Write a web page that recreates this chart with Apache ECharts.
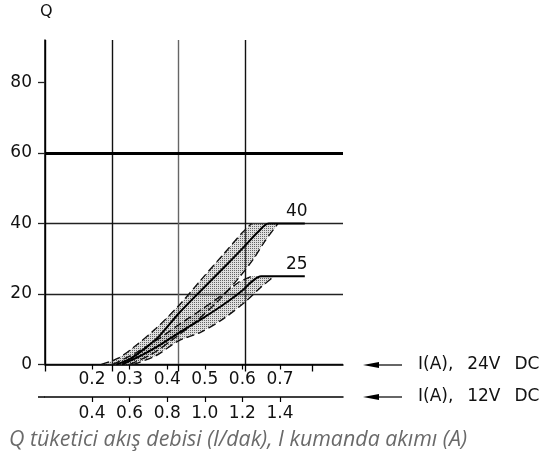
<!DOCTYPE html>
<html>
<head>
<meta charset="utf-8">
<script src="https://cdn.jsdelivr.net/npm/echarts@6.0.0/dist/echarts.min.js"></script>
<style>
  html, body { margin: 0; padding: 0; background: #fff; }
  #chart { width: 546px; height: 465px; }
</style>
</head>
<body>
<div id="chart"></div>
<script>
// axis ticks
const yTicks = [0, 20, 40, 60, 80];
const ticks24V = [0.2, 0.3, 0.4, 0.5, 0.6, 0.7];
const ticks12V = [0.4, 0.6, 0.8, 1.0, 1.2, 1.4];
const gridCols = [0, 1, 2, 3, 4];
const boldLevel = 60;

// curves, x = I (A) at 24V DC, y = Q (l/dak)
const upper40 = [[0.225, 0], [0.27, 1.8], [0.31, 4.8], [0.37, 10.2], [0.43, 16.6], [0.49, 24], [0.55, 31.3], [0.60, 37.4], [0.625, 40]];
const center40 = [[0.265, 0], [0.30, 1.5], [0.34, 4.5], [0.38, 8.2], [0.43, 14.4], [0.49, 21], [0.56, 28.5], [0.61, 34], [0.64, 37.4], [0.67, 40], [0.766, 40]];
const lower40 = [[0.30, 0], [0.36, 3], [0.42, 7.5], [0.48, 12.5], [0.54, 18.5], [0.59, 24.5], [0.63, 30], [0.66, 35], [0.695, 40]];

const upper25 = [[0.255, 0], [0.32, 3.5], [0.38, 7.5], [0.43, 11.2], [0.49, 15.5], [0.55, 20], [0.59, 23.3], [0.625, 25]];
const center25 = [[0.28, 0], [0.33, 2.5], [0.38, 5.5], [0.43, 8.9], [0.49, 12.8], [0.55, 17], [0.60, 21], [0.625, 23.5], [0.65, 25], [0.766, 25]];
const lower25 = [[0.31, 0], [0.37, 2.5], [0.43, 6.7], [0.49, 9.2], [0.55, 13], [0.61, 18], [0.65, 22], [0.685, 25]];

const bandNames = ['40', '25'];
const bands = [
  { upper: upper40, center: center40, lower: lower40 },
  { upper: upper25, center: center25, lower: lower25 }
];

const txt = '#111';
const numFont = 'DejaVu Sans';

// stipple fill for the tolerance bands
function dotPattern() {
  const c = document.createElement('canvas');
  c.width = 2; c.height = 2;
  const g = c.getContext('2d');
  g.fillStyle = 'rgba(150,150,150,0.3)';
  g.fillRect(0, 0, 2, 2);
  g.fillStyle = 'rgba(0,0,0,0.55)';
  g.fillRect(0, 0, 1, 1);
  return c;
}
const pattern = { image: dotPattern(), repeat: 'repeat' };

const chart = echarts.init(document.getElementById('chart'));

const series = [{
  type: 'custom',
  xAxisIndex: 0,
  yAxisIndex: 0,
  silent: true,
  z: 1,
  data: bands.map(b => b.upper[0]),
  renderItem: function (params, api) {
    const b = bands[params.dataIndex];
    const pts = b.upper.concat(b.lower.slice().reverse()).map(p => api.coord(p));
    return { type: 'polygon', shape: { points: pts }, style: { fill: pattern, stroke: null } };
  }
}];

bands.forEach(function (b, i) {
  ['upper', 'lower'].forEach(function (k) {
    series.push({
      type: 'line', xAxisIndex: 0, yAxisIndex: 0, data: b[k],
      showSymbol: false, smooth: 0.3, z: 3, silent: true,
      lineStyle: { color: txt, width: 1.4, type: [8, 4] }
    });
  });
  series.push({
    type: 'line', xAxisIndex: 0, yAxisIndex: 0, data: b.center,
    showSymbol: false, smooth: 0.3, z: 4, silent: true,
    lineStyle: { color: '#000', width: 2 },
    markPoint: {
      symbol: 'circle', symbolSize: 1, silent: true,
      itemStyle: { color: 'transparent' },
      data: [{ coord: b.center[b.center.length - 1] }],
      label: {
        show: true, position: 'top', offset: [-8, 2], formatter: bandNames[i],
        color: txt, fontSize: 17, fontFamily: numFont
      }
    }
  });
});

// bold 60 line
series[1].markLine = {
  silent: true, symbol: 'none', label: { show: false },
  lineStyle: { color: '#000', width: 2.8, type: 'solid' },
  data: [{ yAxis: boldLevel }]
};

function arrowRow(y, label) {
  return [
    { type: 'polygon', shape: { points: [[363, y], [379, y - 3], [379, y + 3]] }, style: { fill: '#000' } },
    { type: 'line', shape: { x1: 379, y1: y, x2: 402, y2: y }, style: { stroke: '#000', lineWidth: 1.2 } },
    { type: 'text', x: 418, y: y, style: { text: label, font: '17px "DejaVu Sans"', fill: txt, verticalAlign: 'middle' } }
  ];
}

const option = {
  animation: false,
  backgroundColor: '#fff',
  grid: { left: 45, top: 40, right: 203, bottom: 100.5 },
  xAxis: [{
    type: 'value', position: 'bottom', min: 0.075, max: 0.8676,
    axisLine: { show: true, lineStyle: { color: '#000', width: 1.5 } },
    axisTick: { show: true, inside: false, length: 5, customValues: ticks24V, lineStyle: { color: '#000', width: 1.2 } },
    axisLabel: { customValues: ticks24V, margin: 7, fontSize: 17, fontFamily: numFont, color: txt, formatter: v => v.toFixed(1) },
    splitLine: { show: false }
  }, {
    type: 'value', position: 'bottom', offset: 32.5, min: 0.15, max: 1.7352,
    axisLine: { show: true, lineStyle: { color: '#000', width: 1.5 } },
    axisTick: { show: true, inside: false, length: 5, customValues: ticks12V, lineStyle: { color: '#000', width: 1.2 } },
    axisLabel: { customValues: ticks12V, margin: 8, fontSize: 17, fontFamily: numFont, color: txt, formatter: v => v.toFixed(1) },
    splitLine: { show: false }
  }, {
    // vertical grid lines of the drawing
    type: 'value', position: 'bottom', min: 0, max: 4.464, interval: 1,
    axisLine: { show: false },
    axisLabel: { show: false },
    axisTick: { show: true, inside: false, length: 7, customValues: gridCols, lineStyle: { color: '#000', width: 1.3 } },
    splitLine: {
      show: true, showMaxLine: false,
      lineStyle: { color: ['#000', '#111', '#666', '#111', '#666'], width: 1.4 }
    }
  }],
  yAxis: {
    type: 'value', min: 0, max: 92, interval: 20,
    axisLine: { show: true, lineStyle: { color: '#000', width: 1.5 } },
    axisTick: { show: true, inside: false, length: 7, customValues: yTicks, lineStyle: { color: '#222', width: 1.3 } },
    axisLabel: { customValues: yTicks, margin: 13, fontSize: 17, fontFamily: numFont, color: txt },
    splitLine: { show: true, showMaxLine: false, lineStyle: { color: '#222', width: 1.3 } }
  },
  graphic: [
    { type: 'text', x: 40, y: 4, style: { text: 'Q', font: '16px "DejaVu Sans"', fill: txt } },
    { type: 'line', shape: { x1: 38, y1: 397, x2: 45, y2: 397 }, style: { stroke: '#000', lineWidth: 1.5 } },
    ...arrowRow(365, 'I(A), \u200224V \u2002DC'),
    ...arrowRow(397, 'I(A), \u200212V \u2002DC'),
    {
      type: 'text', x: 9, y: 440,
      style: {
        text: 'Q tüketici akış debisi (l/dak), I kumanda akımı (A)',
        font: 'italic 21.4px "Open Sans"', fill: '#6a6a6a', verticalAlign: 'middle'
      }
    }
  ],
  series: series
};

chart.setOption(option);
</script>
</body>
</html>
